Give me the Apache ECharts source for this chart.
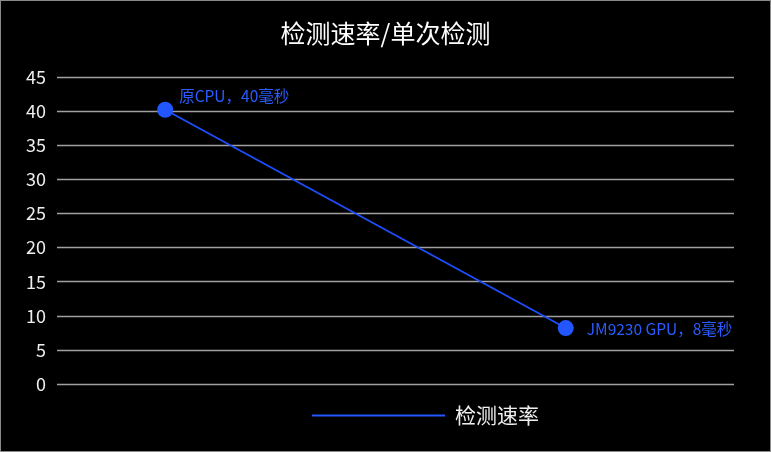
<!DOCTYPE html>
<html><head><meta charset="utf-8">
<script src="https://cdn.jsdelivr.net/npm/echarts@6/dist/echarts.min.js"></script>
<style>
html,body{margin:0;padding:0;background:#000;}
#c{width:771px;height:452px;box-sizing:border-box;border:1px solid #8a8a8a;background:#000;}
</style></head>
<body><div id="c"></div>
<script>
const categories = ['原CPU', 'JM9230 GPU'];
const values = [40.2, 8.2];
const pointLabels = ['原CPU，40毫秒', 'JM9230 GPU，8毫秒'];
const yTicks = [0, 5, 10, 15, 20, 25, 30, 35, 40, 45];

const chart = echarts.init(document.getElementById('c'));
const font = '"Noto Sans CJK SC", "Noto Sans", sans-serif';
const labelOffsets = [[1, -14], [8, 1]];
chart.setOption({
  backgroundColor: '#000',
  textStyle: { fontFamily: font },
  title: {
    text: '检测速率/单次检测', left: 'center', top: 15,
    textStyle: { color: '#fff', fontSize: 25, fontWeight: 'normal', fontFamily: font }
  },
  legend: {
    left: 306, bottom: 20, icon: 'rect', itemWidth: 133, itemHeight: 2, itemGap: 10,
    textStyle: { color: '#eee', fontSize: 21, fontFamily: font, padding: [0, 0, 0, 5] },
    data: ['检测速率']
  },
  grid: { left: 56, right: 36, top: 76, bottom: 67 },
  xAxis: {
    type: 'value', min: -0.27, max: 1.42, show: false
  },
  yAxis: {
    type: 'value', min: yTicks[0], max: yTicks[yTicks.length - 1], interval: 5,
    axisLine: { show: false }, axisTick: { show: false },
    axisLabel: { color: '#eee', fontSize: 18, margin: 11, fontFamily: font },
    splitLine: { lineStyle: { color: '#a0a0a0', width: 1.4 } }
  },
  series: [{
    name: '检测速率', type: 'line',
    data: values.map((v, i) => ({
      value: [i, v],
      label: { show: true, position: 'right', offset: labelOffsets[i], formatter: pointLabels[i] }
    })),
    symbol: 'circle', symbolSize: 16,
    lineStyle: { color: '#1e4fff', width: 1.8 },
    itemStyle: { color: '#2257ff' },
    label: { color: '#2a5cff', fontSize: 15.5, fontFamily: font }
  }]
});
</script></body></html>
